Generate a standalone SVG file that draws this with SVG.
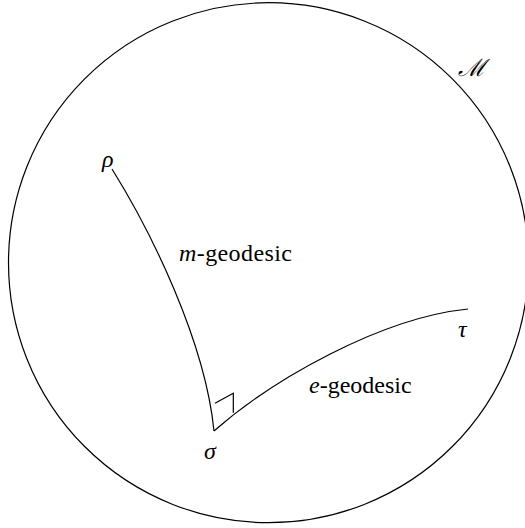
<svg xmlns="http://www.w3.org/2000/svg" width="525" height="528" viewBox="0 0 525 528">
<style>
.ln{fill:none;stroke:#000;stroke-width:1.2}
</style>
<rect width="525" height="528" fill="#fff"/>
<g id="manifold">
<circle class="ln" cx="268.5" cy="262.7" r="260"/>
<text x="458" y="76" font-size="24" font-family="DejaVu Serif, serif" font-style="italic">&#8499;</text>
</g>
<g id="connectors">
<path id="m-geodesic" class="ln" d="M112,169 C150,230 205,340 214,431"/>
<path id="e-geodesic" class="ln" d="M214,431 C272,380 380,318 468,309"/>
<path id="right-angle" class="ln" d="M215,403.3 L233.3,393.3 L233.3,412.7"/>
</g>
<g id="rho"><text x="102" y="167" font-size="24" font-family="Times New Roman, Liberation Serif, serif" font-style="italic">&#961;</text></g>
<g id="sigma"><text x="204" y="459" font-size="24" font-family="Times New Roman, Liberation Serif, serif" font-style="italic">&#963;</text></g>
<g id="tau"><text x="458" y="337" font-size="24" font-family="Times New Roman, Liberation Serif, serif" font-style="italic">&#964;</text></g>
<g id="label-m"><text x="179" y="261" font-size="24" font-family="Times New Roman, Liberation Serif, serif" letter-spacing="0.4"><tspan font-style="italic">m</tspan>-geodesic</text></g>
<g id="label-e"><text x="309" y="393" font-size="24" font-family="Times New Roman, Liberation Serif, serif"><tspan font-style="italic">e</tspan>-geodesic</text></g>
</svg>
